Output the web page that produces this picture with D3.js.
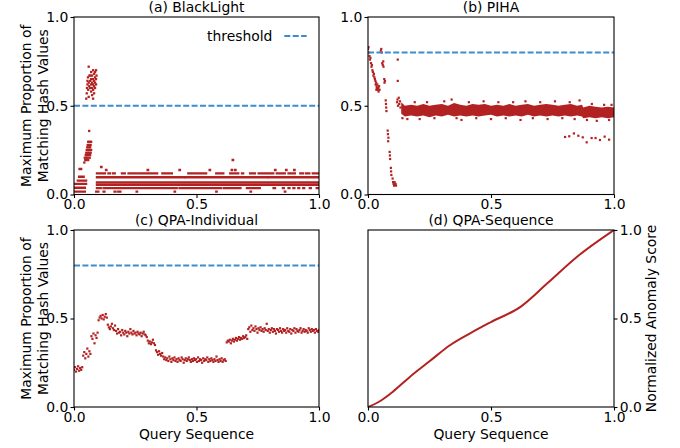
<!DOCTYPE html>
<html>
<head>
<meta charset="utf-8">
<script src="https://cdn.jsdelivr.net/npm/d3@7"></script>
<style>
body { margin: 0; background: #fff; }
svg { display: block; }
</style>
</head>
<body>
<div id="chart"></div>
<script>
// ---- data ----
var ticks = [0, 0.5, 1];
var thresholds = { a: 0.5, b: 0.8, c: 0.8 };

// (a) BlackLight: quantised values form horizontal runs [x0, x1, y]
var runsA = [
    [0.004, 0.045, 0.016], [0.004, 0.045, 0.038], [0.004, 0.05, 0.06], [0.015, 0.05, 0.078],
    [0.02, 0.04, 0.1], [0.022, 0.03, 0.144],
    [0.13, 0.133, 0.138], [0.3, 0.303, 0.138], [0.43, 0.433, 0.138], [0.553, 0.556, 0.138],
    [0.643, 0.646, 0.138], [0.657, 0.66, 0.138], [0.82, 0.823, 0.138], [0.865, 0.868, 0.138],
    [0.898, 0.901, 0.138], [0.647, 0.65, 0.194], [0.11, 0.113, 0.155],
    [0.093, 0.127, 0.119], [0.14, 0.147, 0.119], [0.158, 0.167, 0.119], [0.195, 0.208, 0.119],
    [0.222, 0.256, 0.119], [0.263, 0.34, 0.119], [0.36, 0.4, 0.119], [0.466, 0.54, 0.119],
    [0.58, 0.61, 0.119], [0.637, 0.653, 0.119], [0.661, 0.671, 0.119], [0.685, 0.691, 0.119],
    [0.718, 0.739, 0.119], [0.753, 0.773, 0.119], [0.78, 0.814, 0.119], [0.827, 0.861, 0.119],
    [0.875, 0.902, 0.119], [0.923, 0.936, 0.119], [0.947, 0.961, 0.119], [0.974, 1.0, 0.119],
    [0.093, 0.45, 0.097], [0.455, 0.79, 0.097], [0.795, 1.0, 0.097],
    [0.093, 1.0, 0.068], [0.093, 1.0, 0.054],
    [0.093, 0.11, 0.036], [0.12, 0.42, 0.036], [0.43, 0.6, 0.036], [0.61, 0.68, 0.036],
    [0.705, 0.759, 0.036], [0.814, 0.821, 0.036], [0.852, 0.857, 0.036], [0.875, 0.88, 0.036],
    [0.895, 0.9, 0.036], [0.915, 0.92, 0.036], [0.935, 0.94, 0.036], [0.962, 0.967, 0.036],
    [0.99, 0.998, 0.036],
    [0.09, 0.1, 0.016], [0.12, 0.125, 0.016], [0.165, 0.17, 0.016], [0.18, 0.19, 0.016],
    [0.255, 0.258, 0.016], [0.41, 0.413, 0.016], [0.58, 0.583, 0.016], [0.72, 0.723, 0.016],
    [0.86, 0.863, 0.016]
];
// (a) early clusters, [x, y]
var pointsA = [
    [0.042, 0.18], [0.046, 0.194], [0.05, 0.194], [0.058, 0.194], [0.044, 0.207], [0.05, 0.207],
    [0.056, 0.207], [0.064, 0.207], [0.048, 0.222], [0.054, 0.222], [0.06, 0.222], [0.066, 0.222],
    [0.05, 0.235], [0.056, 0.235], [0.062, 0.235], [0.068, 0.235], [0.052, 0.251], [0.058, 0.251],
    [0.064, 0.251], [0.07, 0.251], [0.054, 0.266], [0.06, 0.266], [0.066, 0.266], [0.056, 0.279],
    [0.062, 0.279], [0.068, 0.279], [0.058, 0.297], [0.064, 0.297], [0.07, 0.297], [0.062, 0.358],
    [0.05, 0.54], [0.052, 0.57], [0.053, 0.6], [0.055, 0.62], [0.055, 0.64], [0.057, 0.66],
    [0.058, 0.59], [0.06, 0.55], [0.06, 0.63], [0.06, 0.72], [0.062, 0.61], [0.063, 0.67],
    [0.066, 0.6], [0.066, 0.64], [0.066, 0.67], [0.07, 0.58], [0.07, 0.62], [0.07, 0.65],
    [0.07, 0.69], [0.074, 0.56], [0.074, 0.6], [0.074, 0.63], [0.074, 0.67], [0.078, 0.54],
    [0.078, 0.59], [0.078, 0.62], [0.078, 0.65], [0.078, 0.7], [0.082, 0.57], [0.082, 0.61],
    [0.082, 0.64], [0.082, 0.68], [0.086, 0.6], [0.086, 0.63], [0.086, 0.66], [0.086, 0.69],
    [0.09, 0.62], [0.09, 0.65], [0.09, 0.7], [0.092, 0.67]
];

// (b) PIHA: dense band (x, low edge, high edge) plus single points
var bandX = [0.135, 0.15, 0.175, 0.2, 0.225, 0.25, 0.275, 0.3, 0.325, 0.35, 0.375, 0.4, 0.425, 0.45,
    0.475, 0.5, 0.525, 0.55, 0.575, 0.6, 0.625, 0.65, 0.675, 0.7, 0.725, 0.75, 0.775, 0.8, 0.825,
    0.85, 0.87, 0.875, 0.9, 0.925, 0.95, 0.975, 1.0];
var bandHi = [0.52, 0.5, 0.505, 0.5, 0.51, 0.5, 0.505, 0.51, 0.5, 0.515, 0.505, 0.5, 0.51, 0.505,
    0.51, 0.5, 0.505, 0.5, 0.51, 0.5, 0.505, 0.51, 0.5, 0.505, 0.51, 0.505, 0.5, 0.505, 0.51,
    0.5, 0.505, 0.49, 0.5, 0.495, 0.49, 0.495, 0.49];
var bandLo = [0.455, 0.44, 0.445, 0.44, 0.445, 0.435, 0.445, 0.44, 0.45, 0.44, 0.445, 0.44, 0.445, 0.44,
    0.445, 0.45, 0.44, 0.445, 0.44, 0.445, 0.44, 0.45, 0.44, 0.445, 0.44, 0.445, 0.44, 0.445, 0.44,
    0.445, 0.44, 0.43, 0.435, 0.43, 0.435, 0.43, 0.435];
var pointsB = [
    [0.0, 0.82], [0.002, 0.83], [0.004, 0.8], [0.006, 0.78], [0.008, 0.76], [0.01, 0.77],
    [0.012, 0.74], [0.014, 0.72], [0.016, 0.73], [0.018, 0.7], [0.02, 0.69], [0.022, 0.67],
    [0.024, 0.68], [0.026, 0.66], [0.028, 0.65], [0.03, 0.64], [0.031, 0.62], [0.033, 0.63],
    [0.035, 0.61], [0.036, 0.6], [0.038, 0.62], [0.04, 0.59], [0.042, 0.6], [0.043, 0.58],
    [0.045, 0.61], [0.047, 0.59], [0.034, 0.59],
    [0.052, 0.81], [0.054, 0.82], [0.056, 0.8], [0.058, 0.74], [0.06, 0.73], [0.062, 0.75],
    [0.063, 0.72], [0.066, 0.65], [0.067, 0.63], [0.069, 0.64], [0.072, 0.53], [0.073, 0.51],
    [0.074, 0.49], [0.075, 0.47], [0.08, 0.36], [0.081, 0.34], [0.083, 0.32], [0.082, 0.3],
    [0.088, 0.24], [0.089, 0.22], [0.09, 0.2], [0.093, 0.15], [0.094, 0.13], [0.095, 0.11],
    [0.1, 0.09], [0.102, 0.07], [0.104, 0.06], [0.106, 0.05], [0.108, 0.07], [0.11, 0.055],
    [0.112, 0.06], [0.114, 0.05],
    [0.118, 0.52], [0.12, 0.535], [0.122, 0.5], [0.125, 0.545], [0.127, 0.51], [0.13, 0.525],
    [0.132, 0.49], [0.121, 0.76], [0.121, 0.64],
    [0.14, 0.43], [0.16, 0.425], [0.19, 0.52], [0.21, 0.425], [0.24, 0.52], [0.27, 0.43],
    [0.31, 0.525], [0.34, 0.535], [0.36, 0.43], [0.38, 0.42], [0.41, 0.52], [0.44, 0.43],
    [0.47, 0.525], [0.5, 0.425], [0.53, 0.52], [0.56, 0.43], [0.59, 0.52], [0.62, 0.42],
    [0.64, 0.525], [0.67, 0.43], [0.7, 0.52], [0.73, 0.425], [0.76, 0.525], [0.79, 0.43],
    [0.82, 0.52], [0.84, 0.425], [0.86, 0.53], [0.89, 0.42], [0.91, 0.51], [0.93, 0.415],
    [0.96, 0.505], [0.98, 0.42], [0.99, 0.505],
    [0.801, 0.324], [0.818, 0.328], [0.837, 0.344], [0.855, 0.331], [0.873, 0.322], [0.889, 0.294],
    [0.909, 0.318], [0.925, 0.318], [0.943, 0.307], [0.962, 0.326], [0.98, 0.309]
];

// (c) QPA-Individual: one value per query, in query order
var valuesC = [
    0.21, 0.225, 0.2, 0.215, 0.23, 0.205, 0.22, 0.21, 0.225,
    0.29, 0.31, 0.275, 0.3, 0.33, 0.285, 0.315, 0.3,
    0.4, 0.385, 0.415, 0.36, 0.405, 0.39, 0.42,
    0.49, 0.505, 0.515, 0.5, 0.52, 0.495, 0.51, 0.525, 0.505,
    0.465, 0.45, 0.44, 0.455, 0.47, 0.445, 0.435, 0.46,
    0.43, 0.415, 0.44, 0.42, 0.425, 0.405, 0.435, 0.42, 0.41, 0.43, 0.42, 0.4, 0.425, 0.415, 0.44,
    0.42, 0.41, 0.43, 0.415, 0.42, 0.405, 0.425, 0.415, 0.41, 0.42, 0.4, 0.415, 0.425, 0.41, 0.405, 0.395,
    0.375, 0.36, 0.37, 0.355, 0.365, 0.38, 0.36, 0.35,
    0.32, 0.31, 0.295, 0.315, 0.3, 0.29, 0.305,
    0.285, 0.27, 0.28, 0.265, 0.275, 0.26, 0.285, 0.27, 0.255, 0.275,
    0.265, 0.28, 0.26, 0.27, 0.255, 0.275, 0.265, 0.26, 0.28, 0.27,
    0.25, 0.265, 0.275, 0.26, 0.27, 0.28, 0.265, 0.255, 0.27, 0.26,
    0.275, 0.265, 0.27, 0.255, 0.28, 0.26, 0.27, 0.265, 0.25, 0.275,
    0.26, 0.27, 0.265, 0.28, 0.255, 0.27, 0.26, 0.275, 0.265, 0.255,
    0.27, 0.26, 0.285, 0.265, 0.255, 0.27, 0.26, 0.275, 0.255, 0.265,
    0.27, 0.26,
    0.365, 0.375, 0.37, 0.38, 0.36, 0.375, 0.385, 0.37, 0.38, 0.39, 0.375, 0.385, 0.395, 0.38,
    0.39, 0.385, 0.4, 0.39, 0.395, 0.405, 0.385,
    0.44, 0.45, 0.425, 0.46, 0.435, 0.445, 0.43, 0.455, 0.44, 0.42,
    0.445, 0.435, 0.45, 0.43, 0.44, 0.425, 0.445, 0.435, 0.47, 0.43,
    0.44, 0.42, 0.435, 0.445, 0.425, 0.44, 0.43, 0.415, 0.44, 0.435,
    0.425, 0.445, 0.43, 0.42, 0.44, 0.43, 0.435, 0.42, 0.445, 0.43,
    0.425, 0.44, 0.415, 0.435, 0.43, 0.445, 0.42, 0.44, 0.43, 0.425,
    0.435, 0.445, 0.42, 0.43, 0.44, 0.425, 0.435, 0.43, 0.42, 0.445,
    0.435, 0.425, 0.44, 0.43, 0.435, 0.42, 0.44, 0.43, 0.425, 0.435
];

// (d) QPA-Sequence: normalized anomaly score curve
var seqX = [0, 0.05, 0.1, 0.17, 0.25, 0.333, 0.42, 0.5, 0.62, 0.73, 0.85, 1.0];
var seqY = [0, 0.034, 0.085, 0.17, 0.258, 0.349, 0.42, 0.48, 0.566, 0.7, 0.849, 1.0];

// ---- drawing ----
var width = 680;
var height = 448;
var red = "#b22222";
var blue = "#3c8dd0";
var font = "DejaVu Sans";
var fs = 13.9;

var svg = d3.select("#chart")
            .append("svg")
            .attr("width", width)
            .attr("height", height);

var boxes = {
    a: { l: 74, r: 319, t: 17, b: 194.5, title: "(a) BlackLight" },
    b: { l: 368, r: 614, t: 17, b: 194.5, title: "(b) PIHA" },
    c: { l: 74, r: 319, t: 230, b: 407, title: "(c) QPA-Individual" },
    d: { l: 368, r: 614, t: 230, b: 407, title: "(d) QPA-Sequence" }
};

Object.keys(boxes).forEach(function(k) {
    var p = boxes[k];
    p.x = d3.scaleLinear().domain([0, 1]).range([p.l, p.r]);
    p.y = d3.scaleLinear().domain([0, 1]).range([p.b, p.t]);
    svg.append("clipPath").attr("id", "clip-" + k)
        .append("rect")
        .attr("x", p.l).attr("y", p.t)
        .attr("width", p.r - p.l).attr("height", p.b - p.t);
    p.g = svg.append("g").attr("clip-path", "url(#clip-" + k + ")");
});

function dots(p, data, size) {
    p.g.selectAll(null)
        .data(data)
        .enter()
        .append("rect")
        .attr("x", function(d) { return p.x(d[0]) - size / 2; })
        .attr("y", function(d) { return p.y(d[1]) - size / 2; })
        .attr("width", size)
        .attr("height", size)
        .attr("fill", red);
}

function threshold(p, v) {
    p.g.append("line")
        .attr("x1", p.l).attr("x2", p.r)
        .attr("y1", p.y(v)).attr("y2", p.y(v))
        .attr("stroke", blue)
        .attr("stroke-width", 2)
        .attr("stroke-dasharray", "6,2.4");
}

// panel a
var pa = boxes.a;
pa.g.selectAll(null)
    .data(runsA)
    .enter()
    .append("line")
    .attr("x1", function(d) { return pa.x(d[0]) - 1; })
    .attr("x2", function(d) { return pa.x(d[1]) + 1; })
    .attr("y1", function(d) { return pa.y(d[2]); })
    .attr("y2", function(d) { return pa.y(d[2]); })
    .attr("stroke", red)
    .attr("stroke-width", 2.4);
dots(pa, pointsA, 2.3);
threshold(pa, thresholds.a);

// panel b
var pb = boxes.b;
var bandData = bandX.map(function(v, i) { return [v, bandLo[i], bandHi[i]]; });
pb.g.append("path")
    .datum(bandData)
    .attr("fill", red)
    .attr("d", d3.area()
        .x(function(d) { return pb.x(d[0]); })
        .y0(function(d) { return pb.y(d[1]); })
        .y1(function(d) { return pb.y(d[2]); }));
dots(pb, pointsB, 2.2);
threshold(pb, thresholds.b);

// panel c
var pc = boxes.c;
var dataC = valuesC.map(function(v, i) { return [i / (valuesC.length - 1), v]; });
dots(pc, dataC, 2.2);
threshold(pc, thresholds.c);

// panel d
var pd = boxes.d;
pd.g.append("path")
    .datum(seqX.map(function(v, i) { return [v, seqY[i]]; }))
    .attr("fill", "none")
    .attr("stroke", red)
    .attr("stroke-width", 2)
    .attr("d", d3.line()
        .curve(d3.curveMonotoneX)
        .x(function(d) { return pd.x(d[0]); })
        .y(function(d) { return pd.y(d[1]); }));

// axes, frames, titles
function styleAxis(g) {
    g.attr("font-size", fs).attr("font-family", font);
    g.select(".domain").remove();
    g.selectAll("line").attr("stroke", "#000").attr("stroke-width", 1.1);
    g.selectAll("text").attr("fill", "#000");
}

Object.keys(boxes).forEach(function(k) {
    var p = boxes[k];
    svg.append("g")
        .attr("transform", "translate(0," + p.b + ")")
        .call(d3.axisBottom(p.x).tickValues(ticks).tickFormat(d3.format(".1f"))
            .tickSize(3.5).tickPadding(1.6).tickSizeOuter(0))
        .call(styleAxis);
    if (k == "d") {
        svg.append("g")
            .attr("transform", "translate(" + p.r + ",0)")
            .call(d3.axisRight(p.y).tickValues(ticks).tickFormat(d3.format(".1f"))
                .tickSize(3.5).tickPadding(2.2).tickSizeOuter(0))
            .call(styleAxis);
    } else {
        svg.append("g")
            .attr("transform", "translate(" + p.l + ",0)")
            .call(d3.axisLeft(p.y).tickValues(ticks).tickFormat(d3.format(".1f"))
                .tickSize(3.5).tickPadding(2.2).tickSizeOuter(0))
            .call(styleAxis);
    }
    svg.append("rect")
        .attr("x", p.l).attr("y", p.t)
        .attr("width", p.r - p.l).attr("height", p.b - p.t)
        .attr("fill", "none")
        .attr("stroke", "#000")
        .attr("stroke-width", 1.1);
    svg.append("text")
        .attr("x", (p.l + p.r) / 2)
        .attr("y", p.t - 5.5)
        .attr("text-anchor", "middle")
        .attr("font-family", font)
        .attr("font-size", fs)
        .text(p.title);
});

// left y labels (two lines)
[boxes.a, boxes.c].forEach(function(p) {
    var cy = (p.t + p.b) / 2;
    [["Maximum Proportion of", 31], ["Matching Hash Values", 47.5]].forEach(function(t) {
        svg.append("text")
            .attr("transform", "translate(" + t[1] + "," + cy + ") rotate(-90)")
            .attr("text-anchor", "middle")
            .attr("font-family", font)
            .attr("font-size", fs)
            .text(t[0]);
    });
});

// right y label
svg.append("text")
    .attr("transform", "translate(656," + (boxes.d.t + boxes.d.b) / 2 + ") rotate(-90)")
    .attr("text-anchor", "middle")
    .attr("font-family", font)
    .attr("font-size", fs)
    .text("Normalized Anomaly Score");

// x labels
[boxes.c, boxes.d].forEach(function(p) {
    svg.append("text")
        .attr("x", (p.l + p.r) / 2)
        .attr("y", p.b + 31.5)
        .attr("text-anchor", "middle")
        .attr("font-family", font)
        .attr("font-size", fs)
        .text("Query Sequence");
});

// legend in panel a
svg.append("text")
    .attr("x", 207)
    .attr("y", 41)
    .attr("font-family", font)
    .attr("font-size", fs)
    .text("threshold");
svg.append("line")
    .attr("x1", 284.3).attr("x2", 306.7)
    .attr("y1", 36).attr("y2", 36)
    .attr("stroke", blue)
    .attr("stroke-width", 2)
    .attr("stroke-dasharray", "6,2.4");
</script>
</body>
</html>
